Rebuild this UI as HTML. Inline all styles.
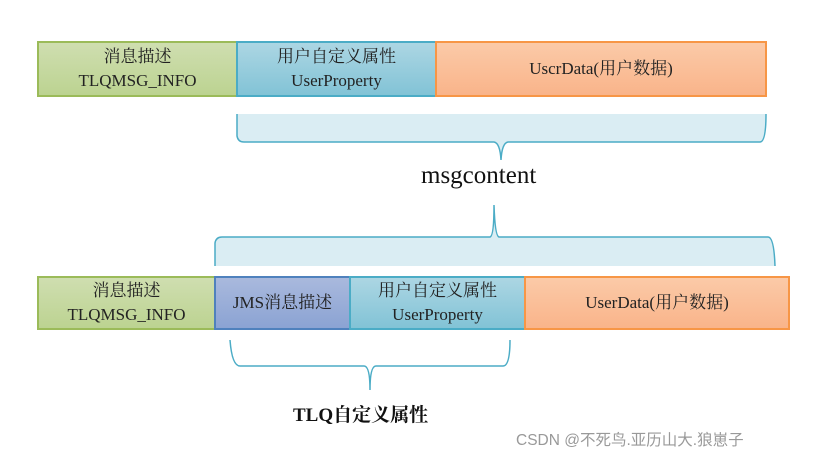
<!DOCTYPE html>
<html><head><meta charset="utf-8"><style>
body{margin:0;background:#fff;width:814px;height:459px;overflow:hidden;position:relative;font-family:"Liberation Serif","Noto Serif CJK SC",serif;}
.b{position:absolute;box-sizing:border-box;border:2px solid;text-align:center;color:#222;font-size:17px;line-height:24px;display:flex;flex-direction:column;justify-content:center;}
.g{background:linear-gradient(#cfdeb0,#bcd391);border-color:#9bbb59;}
.c{background:linear-gradient(#acd6e3,#82c3d6);border-color:#4bacc6;}
.o{background:linear-gradient(#fbcaa8,#f9b48a);border-color:#f79646;}
.p{background:linear-gradient(#a9b9dd,#8ba3d3);border-color:#4f81bd;}
.t{position:absolute;white-space:nowrap;}
</style></head><body>
<div class="b g" style="left:37px;top:41px;width:201px;height:56px">消息描述<br>TLQMSG_INFO</div>
<div class="b c" style="left:236px;top:41px;width:201px;height:56px">用户自定义属性<br>UserProperty</div>
<div class="b o" style="left:435px;top:41px;width:332px;height:56px">UscrData(用户数据)</div>

<svg width="814" height="459" style="position:absolute;left:0;top:0">
<path d="M237,114 L237,136 Q238,142 244,142 L494,142 Q500,143 501,160 Q502,143 508,142 L760,142 Q766,142 766,114 Z" fill="#daedf3" stroke="none"/>
<path d="M237,114 L237,136 Q238,142 244,142 L494,142 Q500,143 501,160 Q502,143 508,142 L760,142 Q766,142 766,114" fill="none" stroke="#4bacc6" stroke-width="1.5"/>
<path d="M215,266 L215,243 Q216,237 222,237 L490,237 Q494,236 494,205 Q495,236 499,237 L768,237 Q774,237 775,266 Z" fill="#daedf3" stroke="none"/>
<path d="M215,266 L215,243 Q216,237 222,237 L490,237 Q494,236 494,205 Q495,236 499,237 L768,237 Q774,237 775,266" fill="none" stroke="#4bacc6" stroke-width="1.5"/>
<path d="M230,340 Q232,366 240,366 L364,366 Q370,366 370,390 Q370,366 376,366 L503,366 Q510,366 510,340" fill="none" stroke="#4bacc6" stroke-width="1.5"/>
</svg>

<div class="t" style="left:421px;top:162px;font-size:25px;color:#111">msgcontent</div>

<div class="b g" style="left:37px;top:276px;width:179px;height:54px">消息描述<br>TLQMSG_INFO</div>
<div class="b p" style="left:214px;top:276px;width:137px;height:54px">JMS消息描述</div>
<div class="b c" style="left:349px;top:276px;width:177px;height:54px">用户自定义属性<br>UserProperty</div>
<div class="b o" style="left:524px;top:276px;width:266px;height:54px">UserData(用户数据)</div>

<div class="t" style="left:293px;top:400px;font-size:19px;font-weight:bold;color:#111">TLQ自定义属性</div>
<div class="t" style="left:516px;top:428px;font-size:15.5px;color:#999;font-family:'Liberation Sans','Noto Sans CJK SC',sans-serif">CSDN @不死鸟.亚历山大.狼崽子</div>
</body></html>
